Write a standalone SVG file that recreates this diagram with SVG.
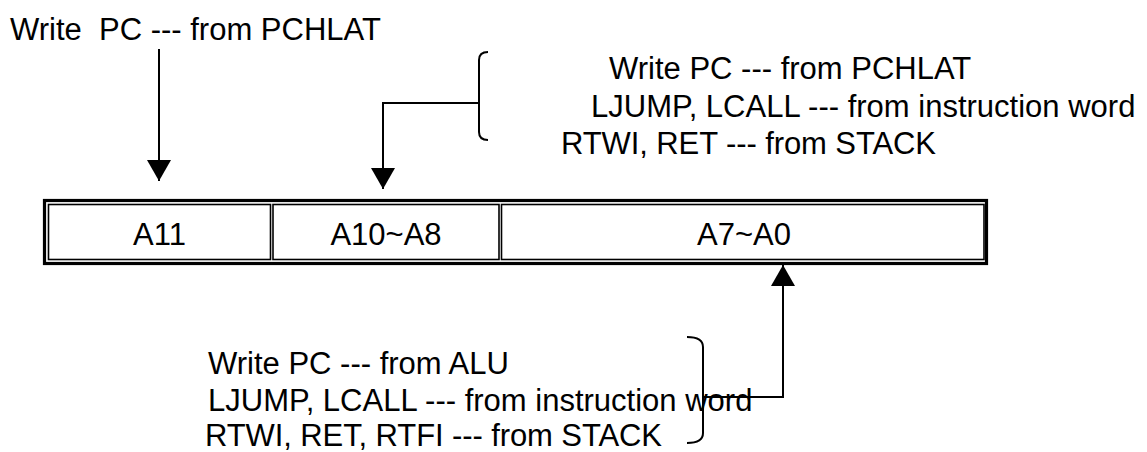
<svg xmlns="http://www.w3.org/2000/svg" width="1147" height="452" viewBox="0 0 1147 452">
<style>
  text { font-family: "Liberation Sans", Arial, sans-serif; font-size: 31px; fill: #000; }
  .cell text { text-anchor: middle; }
  .ln { fill: none; stroke: #000; stroke-width: 2; }
  .cellbox { fill: #fff; stroke: #000; stroke-width: 1.6; }
</style>
<defs>
  <marker id="ah" viewBox="0 0 21 24" refX="21" refY="12" markerWidth="21" markerHeight="24" markerUnits="userSpaceOnUse" orient="auto">
    <path d="M0,0 L21,12 L0,24 Z" fill="#000"/>
  </marker>
</defs>
<rect width="1147" height="452" fill="#fff"/>

<g id="register">
  <rect x="44.5" y="200.5" width="942" height="63" fill="#fff" stroke="#000" stroke-width="3.2"/>
  <g id="cell-a11" class="cell">
    <rect class="cellbox" x="48.5" y="204.5" width="222" height="55"/>
    <text x="159.5" y="245">A11</text>
  </g>
  <g id="cell-a10-a8" class="cell">
    <rect class="cellbox" x="273" y="204.5" width="226" height="55"/>
    <text x="386" y="245">A10~A8</text>
  </g>
  <g id="cell-a7-a0" class="cell">
    <rect class="cellbox" x="501.5" y="204.5" width="482.5" height="55"/>
    <text x="744" y="245">A7~A0</text>
  </g>
</g>

<g id="label-a11">
  <text x="10" y="40" xml:space="preserve">Write  PC --- from PCHLAT</text>
</g>

<g id="label-a10-a8">
  <text x="609" y="79">Write PC --- from PCHLAT</text>
  <text x="591" y="116.5">LJUMP, LCALL --- from instruction word</text>
  <text x="561" y="154" textLength="375" lengthAdjust="spacing">RTWI, RET --- from STACK</text>
  <path class="ln" d="M488,52 Q479,52 479,60 L479,132 Q479,140 488,140"/>
</g>

<g id="label-a7-a0">
  <text x="208" y="374">Write PC --- from ALU</text>
  <text x="208" y="411">LJUMP, LCALL --- from instruction word</text>
  <text x="205" y="446" textLength="457" lengthAdjust="spacing">RTWI, RET, RTFI --- from STACK</text>
  <path class="ln" d="M687,337 Q703,337 703,347 L703,433 Q703,443 687,443"/>
</g>

<g id="connectors">
  <line class="ln" x1="159" y1="49" x2="159" y2="181" marker-end="url(#ah)"/>
  <polyline class="ln" points="479,103 383,103 383,189" marker-end="url(#ah)"/>
  <polyline class="ln" points="703,397 783,397 783,265" marker-end="url(#ah)"/>
</g>
</svg>
